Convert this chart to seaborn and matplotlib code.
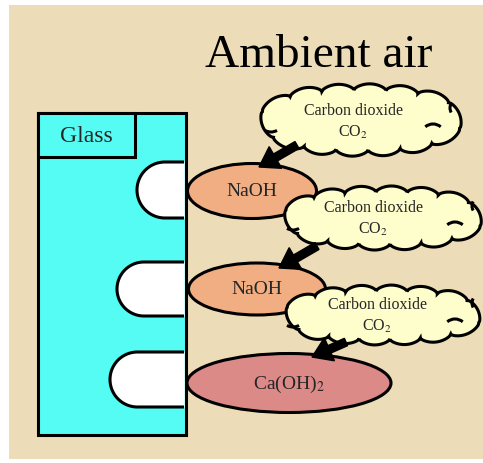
import numpy as np
import matplotlib.pyplot as plt
import matplotlib.patches as mpatches
import seaborn as sns

sns.set_theme(style="white")
plt.rcParams['font.family'] = ['Liberation Serif', 'DejaVu Serif']
plt.rcParams['mathtext.fontset'] = 'stix'

# texts
title = "Ambient air"
glass_label = "Glass"
reagent_labels = ["NaOH", "NaOH", "Ca(OH)$_2$"]
reagent_colors = ["#F0AE82", "#F0AE82", "#DB8A88"]
cloud_line1 = ["Carbon dioxide", "Carbon dioxide", "Carbon dioxide"]
cloud_line2 = ["CO$_2$", "CO$_2$", "CO$_2$"]

# geometry (pixel coordinates, y down)
reagent_xy = [(252, 191), (257, 289), (289, 383)]
reagent_wh = [(129, 55), (137, 52), (204, 59)]
cloud_xy = [(361, 120), (383, 218), (383, 315)]
cloud_ab = [(101, 30), (100, 26), (99, 24)]
cloud_text_xy = [(353, 111), (373, 208), (377, 305)]
arrow_tail = [(297, 145), (317, 246), (346, 342)]
arrow_tip = [(259, 167), (279, 268), (312, 357)]
drops = [(137, 162, 218), (117, 262, 316), (110, 352, 407)]  # left x, top y, bottom y

LW = 2.2
W, H = 483, 463

fig = plt.figure(figsize=(W / 100, H / 100), dpi=100)
ax = fig.add_axes([0, 0, 1, 1])
ax.set_xlim(0, W)
ax.set_ylim(H, 0)
ax.axis('off')

# parchment background
ax.add_patch(mpatches.Rectangle((9, 5), W - 9, 454, facecolor='#ECDCB7', edgecolor='none', zorder=0))

ax.text(319, 67, title, fontsize=34, ha='center', va='baseline', color='black', zorder=5)

# glass block
ax.add_patch(mpatches.Rectangle((38, 113), 148, 322, facecolor='#55FCF4', edgecolor='black', lw=LW, zorder=1))
ax.add_patch(mpatches.Rectangle((38, 113), 97, 44, facecolor='#55FCF4', edgecolor='black', lw=LW, zorder=1))
ax.text(86, 137, glass_label, fontsize=17, ha='center', va='center', zorder=5)

# white drops on the glass
for x0, y0, y1 in drops:
    x1 = 184
    r = (y1 - y0) / 2
    xc, yc = x0 + r, (y0 + y1) / 2
    phi = np.linspace(0, np.pi, 60)
    xs = np.concatenate([[x1], xc - r * np.sin(phi), [x1]])
    ys = np.concatenate([[y0], yc - r * np.cos(phi), [y1]])
    ax.fill(xs, ys, color='white', zorder=2)
    ax.plot(xs, ys, color='black', lw=LW, zorder=2, solid_capstyle='butt')

# reagent ellipses
for (x, y), (w, h), c, lab in zip(reagent_xy, reagent_wh, reagent_colors, reagent_labels):
    ax.add_patch(mpatches.Ellipse((x, y), w, h, facecolor=c, edgecolor='black', lw=LW, zorder=3))
    ax.text(x, y + 1, lab, fontsize=14, ha='center', va='center', zorder=5)


def cloud_outline(cx, cy, a, b, n=14, bump=0.2, p=2.3):
    t = np.linspace(0, 2 * np.pi, 3000)
    c, s_ = np.cos(t), np.sin(t)
    ex = cx + a * np.sign(c) * np.abs(c) ** (2 / p)
    ey = cy + b * np.sign(s_) * np.abs(s_) ** (2 / p)
    seg = np.hypot(np.diff(ex), np.diff(ey))
    arc = np.concatenate([[0], np.cumsum(seg)])
    targets = np.mod(np.linspace(0, arc[-1], n + 1) + arc[-1] * 0.02, arc[-1])
    px, py = np.interp(targets, arc, ex), np.interp(targets, arc, ey)
    s = np.linspace(0, 1, 30)
    prof = np.sin(np.pi * s) ** 0.6
    xs, ys = [], []
    for i in range(n):
        dx, dy = px[i + 1] - px[i], py[i + 1] - py[i]
        L = np.hypot(dx, dy)
        nx, ny = dy / L, -dx / L
        xs.append(px[i] + s * dx + nx * bump * L * prof)
        ys.append(py[i] + s * dy + ny * bump * L * prof)
    return np.concatenate(xs), np.concatenate(ys)


# inner curls of the clouds: offset from centre, radius, angle span
curls = [(-90, 0, 12, 60, 120), (72, 16, 12, 230, 310), (98, -12, 9, 150, 210)]

for i, ((cx, cy), (a, b)) in enumerate(zip(cloud_xy, cloud_ab)):
    z = 4 + i * 0.1
    xs, ys = cloud_outline(cx, cy, a, b)
    ax.fill(xs, ys, facecolor='#FEFDCC', edgecolor='black', lw=LW, zorder=z)
    for ox, oy, r, t1, t2 in curls:
        ax.add_patch(mpatches.Arc((cx + ox, cy + oy), 2 * r, 2 * r, theta1=t1, theta2=t2,
                                  color='black', lw=LW, zorder=z))
    tx, ty = cloud_text_xy[i]
    ax.text(tx, ty, cloud_line1[i], fontsize=11.5, ha='center', va='center', zorder=z + 0.05)
    ax.text(tx, ty + 21, cloud_line2[i], fontsize=11.5, ha='center', va='center', zorder=z + 0.05)

# arrows from CO2 clouds to the reagents
for (x0, y0), (x1, y1) in zip(arrow_tail, arrow_tip):
    ax.add_patch(mpatches.FancyArrow(x0, y0, x1 - x0, y1 - y0, width=8, head_width=25,
                                     head_length=19, length_includes_head=True,
                                     color='black', zorder=6))

fig.savefig('out.png', dpi=100)
